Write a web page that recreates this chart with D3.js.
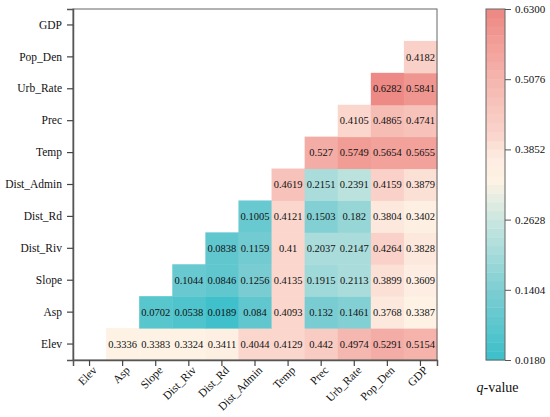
<!DOCTYPE html>
<html>
<head>
<meta charset="utf-8">
<script src="https://cdn.jsdelivr.net/npm/d3@7"></script>
<style>
  body { margin: 0; background: #fff; }
  svg, svg text { font-family: "Liberation Serif", "Times New Roman", serif; }
</style>
</head>
<body>
<div id="chart"></div>
<script>
// factors, bottom row to top row (and left to right on x)
const factors = ["Elev", "Asp", "Slope", "Dist_Riv", "Dist_Rd", "Dist_Admin",
                 "Temp", "Prec", "Urb_Rate", "Pop_Den", "GDP"];

// interaction q-values, one list per row; row i starts at column i+1
const rowElev      = [0.3336, 0.3383, 0.3324, 0.3411, 0.4044, 0.4129, 0.442, 0.4974, 0.5291, 0.5154];
const rowAsp       = [0.0702, 0.0538, 0.0189, 0.084, 0.4093, 0.132, 0.1461, 0.3768, 0.3387];
const rowSlope     = [0.1044, 0.0846, 0.1256, 0.4135, 0.1915, 0.2113, 0.3899, 0.3609];
const rowDistRiv   = [0.0838, 0.1159, 0.41, 0.2037, 0.2147, 0.4264, 0.3828];
const rowDistRd    = [0.1005, 0.4121, 0.1503, 0.182, 0.3804, 0.3402];
const rowDistAdmin = [0.4619, 0.2151, 0.2391, 0.4159, 0.3879];
const rowTemp      = [0.527, 0.5749, 0.5654, 0.5655];
const rowPrec      = [0.4105, 0.4865, 0.4741];
const rowUrbRate   = [0.6282, 0.5841];
const rowPopDen    = [0.4182];
const rowGDP       = [];

const legendTicks = ["0.0180", "0.1404", "0.2628", "0.3852", "0.5076", "0.6300"];

const rows = [rowElev, rowAsp, rowSlope, rowDistRiv, rowDistRd, rowDistAdmin,
              rowTemp, rowPrec, rowUrbRate, rowPopDen, rowGDP];

// flatten into cells
let cells = [];
rows.forEach((vals, r) => {
  vals.forEach((v, k) => {
    cells.push({ row: factors[r], col: factors[r + 1 + k], value: v });
  });
});

const width = 550, height = 417;
const margin = { top: 9, right: 113, bottom: 57, left: 73 };

const svg = d3.select("#chart")
  .append("svg")
  .attr("width", width)
  .attr("height", height);

const xScale = d3.scaleBand()
  .domain(factors)
  .range([margin.left, width - margin.right]);

const yScale = d3.scaleBand()
  .domain(factors)
  .range([height - margin.bottom, margin.top]);

const qMin = 0.018, qMax = 0.63;

// diverging teal -> cream -> salmon
const smooth = d3.scaleLinear()
  .domain([0.018, 0.14, 0.2628, 0.30, 0.33, 0.36, 0.3852, 0.41, 0.5076, 0.63])
  .range(["#3bbfc9", "#7dced3", "#cbe7e1", "#e6ede2", "#fdf2e4", "#fdeee3",
          "#fce5db", "#fad5cc", "#f5b6ae", "#ee8782"])
  .clamp(true);

// banded like the colorbar
const nBands = 40;
const band = (v) => {
  let t = Math.min(nBands - 1, Math.floor((v - qMin) / (qMax - qMin) * nBands));
  return smooth(qMin + (t + 0.5) * (qMax - qMin) / nBands);
};

// cells
svg.append("g")
  .selectAll("rect")
  .data(cells)
  .enter()
  .append("rect")
    .attr("x", (d) => xScale(d.col))
    .attr("y", (d) => yScale(d.row))
    .attr("width", xScale.bandwidth() + 0.5)
    .attr("height", yScale.bandwidth() + 0.5)
    .attr("fill", (d) => band(d.value));

svg.append("g")
  .selectAll("text")
  .data(cells)
  .enter()
  .append("text")
    .attr("x", (d) => xScale(d.col) + xScale.bandwidth() / 2)
    .attr("y", (d) => yScale(d.row) + yScale.bandwidth() / 2)
    .attr("dy", "0.35em")
    .attr("text-anchor", "middle")
    .attr("font-size", "10.5px")
    .attr("fill", "#111")
    .text((d) => String(d.value));

// frame (top and right)
svg.append("rect")
  .attr("x", margin.left)
  .attr("y", margin.top)
  .attr("width", width - margin.right - margin.left)
  .attr("height", height - margin.bottom - margin.top)
  .attr("fill", "none")
  .attr("stroke", "#666")
  .attr("stroke-width", 1);

// y axis
const yAxis = svg.append("g")
  .attr("transform", `translate(${margin.left},0)`)
  .call(d3.axisLeft(yScale).tickSize(6).tickPadding(5));
yAxis.attr("font-family", null);
yAxis.selectAll("text").attr("font-size", "11.5px").attr("fill", "#111");
yAxis.select(".domain").attr("stroke", "#555").attr("stroke-width", 1.5);
yAxis.selectAll(".tick line").attr("stroke", "#444").attr("stroke-width", 1.2);

// x axis
const xAxis = svg.append("g")
  .attr("transform", `translate(0,${height - margin.bottom})`)
  .call(d3.axisBottom(xScale).tickSize(6));
xAxis.attr("font-family", null);
xAxis.select(".domain").attr("stroke", "#555").attr("stroke-width", 1.5);
xAxis.selectAll(".tick line").attr("stroke", "#444").attr("stroke-width", 1.2);
xAxis.selectAll("text")
  .attr("font-size", "11.5px")
  .attr("fill", "#111")
  .attr("text-anchor", "end")
  .attr("y", 0).attr("dy", 0)
  .attr("transform", "translate(8,11) rotate(-45)");

// colorbar
const barX = 486, barW = 19;
const legScale = d3.scaleLinear()
  .domain([qMin, qMax])
  .range([height - margin.bottom, margin.top]);

const bandVals = d3.range(nBands).map((i) => qMin + (i + 0.5) * (qMax - qMin) / nBands);
const bandH = (legScale(qMin) - legScale(qMax)) / nBands;

svg.append("g")
  .selectAll("rect")
  .data(bandVals)
  .enter()
  .append("rect")
    .attr("x", barX)
    .attr("y", (d) => legScale(d) - bandH / 2)
    .attr("width", barW)
    .attr("height", bandH + 0.4)
    .attr("fill", (d) => smooth(d));

svg.append("rect")
  .attr("x", barX)
  .attr("y", margin.top)
  .attr("width", barW)
  .attr("height", height - margin.bottom - margin.top)
  .attr("fill", "none")
  .attr("stroke", "#666")
  .attr("stroke-width", 1);

const legAxis = svg.append("g")
  .attr("transform", `translate(${barX + barW},0)`)
  .call(d3.axisRight(legScale)
    .tickValues(legendTicks.map(Number))
    .tickFormat((d, i) => legendTicks[i])
    .tickSize(6).tickPadding(4));
legAxis.attr("font-family", null);
legAxis.select(".domain").remove();
legAxis.selectAll(".tick line").attr("stroke", "#555");
legAxis.selectAll("text").attr("font-size", "11px").attr("fill", "#111");

const qLab = svg.append("text")
  .attr("x", barX + barW / 2 + 2)
  .attr("y", 392)
  .attr("text-anchor", "middle")
  .attr("font-size", "14px")
  .attr("fill", "#111");
qLab.append("tspan").attr("font-style", "italic").text("q");
qLab.append("tspan").text("-value");
</script>
</body>
</html>
